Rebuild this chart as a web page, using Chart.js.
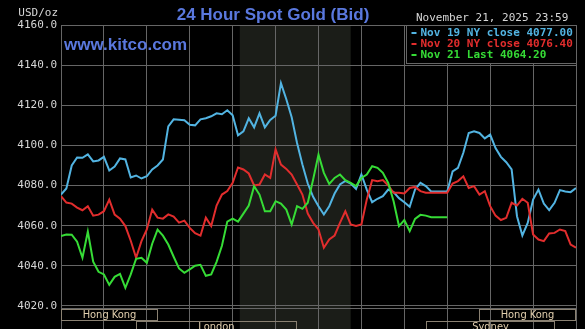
<!DOCTYPE html>
<html>
<head>
<meta charset="utf-8">
<script src="https://cdn.jsdelivr.net/npm/chart.js@4.4.1/dist/chart.umd.min.js"></script>
<style>
  html, body { margin: 0; padding: 0; background: #000; }
  canvas { display: block; }
</style>
</head>
<body>
<canvas id="goldChart" width="585" height="329"></canvas>
<script>
// time of day in hours (New York), one point every 15 minutes
const hours = [
  0, 0.25, 0.5, 0.75, 1, 1.25, 1.5, 1.75, 2, 2.25, 2.5, 2.75,
  3, 3.25, 3.5, 3.75, 4, 4.25, 4.5, 4.75, 5, 5.25, 5.5, 5.75,
  6, 6.25, 6.5, 6.75, 7, 7.25, 7.5, 7.75, 8, 8.25, 8.5, 8.75,
  9, 9.25, 9.5, 9.75, 10, 10.25, 10.5, 10.75, 11, 11.25, 11.5, 11.75,
  12, 12.25, 12.5, 12.75, 13, 13.25, 13.5, 13.75, 14, 14.25, 14.5, 14.75,
  15, 15.25, 15.5, 15.75, 16, 16.25, 16.5, 16.75, 17, 17.25, 17.5, 17.75,
  18, 18.25, 18.5, 18.75, 19, 19.25, 19.5, 19.75, 20, 20.25, 20.5, 20.75,
  21, 21.25, 21.5, 21.75, 22, 22.25, 22.5, 22.75, 23, 23.25, 23.5, 23.75, 24
];

const nov19 = [
  4075.5, 4078.5, 4090, 4094, 4093.8, 4095.5, 4092, 4092.5, 4094.3, 4087.5, 4089.5, 4093.5,
  4093, 4084, 4085, 4083.5, 4084.6, 4088, 4090, 4093, 4109.5, 4113, 4112.8, 4112.5,
  4110.3, 4110, 4113, 4113.5, 4114.5, 4116, 4115.5, 4117.5, 4115, 4105, 4107, 4113.5,
  4109, 4116, 4109, 4112.7, 4114.8, 4131, 4123, 4114, 4101.2, 4090.5, 4081, 4074.4,
  4069.7, 4065.6, 4069.7, 4076, 4080.5, 4082.3, 4081, 4078.3, 4085.5, 4078, 4071.7, 4073.4,
  4074.7, 4078, 4076.7, 4073.7, 4071.7, 4069.4, 4078, 4081.3, 4079.7, 4077, 4077, 4077,
  4077, 4087, 4088.8, 4096.3, 4106.2, 4107, 4106.2, 4103.5, 4105.4, 4098.7, 4094.3, 4091.6,
  4088, 4064.7, 4055.1, 4061.4, 4073, 4078, 4071, 4067.7, 4071.4, 4077.7, 4077, 4076.7, 4078.8
];

const nov20 = [
  4074.7, 4071.5, 4071, 4069, 4067.7, 4069.7, 4065, 4065.5, 4067.2, 4073, 4065.5, 4063.5,
  4059.8, 4052.5, 4044, 4052.3, 4058.1, 4068, 4064, 4063.5, 4065.6, 4064.5, 4061.5, 4062.5,
  4058.9, 4056.2, 4055, 4064, 4059.8, 4070, 4075.5, 4077.2, 4081.3, 4089, 4088, 4086,
  4080, 4080.5, 4085.5, 4083.8, 4098, 4090.4, 4088.3, 4085.5, 4080.5, 4075.5, 4066, 4061.4,
  4058.1, 4049, 4053.1, 4055.1, 4061.4, 4067.2, 4060.6, 4059.8, 4060.6, 4073, 4082.7, 4082.2,
  4082.7, 4080, 4076.4, 4076.4, 4076, 4078.8, 4079.3, 4077.2, 4076.4, 4076.4, 4076.4, 4076.4,
  4076.4, 4081, 4082.2, 4084.6, 4078.8, 4079.7, 4075.5, 4077.2, 4069.7, 4065, 4062.8, 4063.9,
  4071.4, 4070, 4073.4, 4071.4, 4055.6, 4053.1, 4052.3, 4056.1, 4056.4, 4058.1, 4057.3, 4050.6, 4049
];

const nov21 = [
  4054.8, 4055.6, 4055.5, 4052, 4044, 4057, 4042, 4037, 4035.7, 4030.5, 4034.5, 4036,
  4029, 4035.7, 4043.5, 4044, 4041.5, 4051, 4058, 4055, 4050.6, 4044.5, 4038.7, 4036.5,
  4038.2, 4040, 4040.5, 4035, 4035.7, 4042, 4050, 4062, 4063.5, 4062, 4066, 4070,
  4079.7, 4075.5, 4067.2, 4067.2, 4072.2, 4071, 4068, 4060.6, 4069.7, 4068.4, 4071.4, 4083,
  4095.4, 4086.3, 4080.8, 4083.8, 4085.5, 4082.7, 4081.3, 4079.7, 4083.8, 4085.5, 4089.6, 4088.8,
  4086.3, 4081.3, 4072.2, 4059.8, 4062.8, 4057.3, 4063.4, 4065.4, 4065, 4064.2, 4064.2, 4064.2,
  4064.2
];

const seriesNames = ['Nov 19 NY close 4077.00', 'Nov 20 NY close 4076.40', 'Nov 21 Last 4064.20'];
const yTicks = [4020, 4040, 4060, 4080, 4100, 4120, 4140, 4160];

// NY trading hours (shaded) and market sessions along the bottom
const nyOpen = 8.333;
const nyClose = 13.5;
const sessionNames = ['Hong Kong', 'London', 'Sydney', 'Hong Kong'];
const sessionStart = [0, 3.5, 17, 19.5];
const sessionEnd = [4.5, 11, 23, 24];
const sessionRow = [0, 1, 1, 0];

const colors = ['#52b4e2', '#e22d2d', '#36dc36'];
const gridColor = '#666666';
const mono = '"DejaVu Sans Mono", monospace';

const backdrop = {
  id: 'backdrop',
  beforeDraw(chart) {
    const ctx = chart.ctx;
    const a = chart.chartArea;
    const x = chart.scales.x;
    ctx.save();
    ctx.fillStyle = '#000';
    ctx.fillRect(0, 0, chart.width, chart.height);
    ctx.fillStyle = '#1b1d18';
    const x0 = x.getPixelForValue(nyOpen);
    const x1 = x.getPixelForValue(nyClose);
    ctx.fillRect(x0, a.top, x1 - x0, a.bottom - a.top);
    ctx.restore();
  }
};

const overlay = {
  id: 'overlay',
  afterDraw(chart) {
    const ctx = chart.ctx;
    const a = chart.chartArea;
    const x = chart.scales.x;
    const y = chart.scales.y;
    ctx.save();

    // session boxes
    const base = Math.round(y.getPixelForValue(yTicks[0]));
    ctx.strokeStyle = gridColor;
    ctx.lineWidth = 1;
    ctx.beginPath();
    ctx.moveTo(a.left, base + 2.5);
    ctx.lineTo(a.right, base + 2.5);
    ctx.stroke();
    ctx.font = '11px "Liberation Sans Narrow", "DejaVu Sans Condensed", sans-serif';
    ctx.textAlign = 'center';
    ctx.textBaseline = 'middle';
    sessionNames.forEach((name, i) => {
      const l = Math.round(x.getPixelForValue(sessionStart[i])) + 0.5;
      const r = Math.round(x.getPixelForValue(sessionEnd[i])) - 0.5;
      const t = base + 3.5 + sessionRow[i] * 12;
      ctx.strokeStyle = '#8a8172';
      ctx.strokeRect(l, t, r - l, 11);
      ctx.fillStyle = '#e2cfae';
      ctx.fillText(name, (l + r) / 2, t + 6);
    });

    // legend box
    const lw = 170, lh = 38;
    const lx = Math.round(a.right - lw) + 0.5, ly = Math.round(a.top) + 0.5;
    ctx.fillStyle = '#000';
    ctx.fillRect(lx, ly, lw, lh);
    ctx.strokeStyle = gridColor;
    ctx.strokeRect(lx, ly, lw, lh);
    ctx.font = 'bold 11px ' + mono;
    ctx.textAlign = 'left';
    seriesNames.forEach((name, i) => {
      const ty = ly + 7.5 + i * 11;
      ctx.fillStyle = colors[i];
      ctx.fillRect(lx + 5, ty - 1, 5, 2);
      ctx.fillText(name, lx + 14, ty);
    });

    // texts
    ctx.fillStyle = '#d6d6d6';
    ctx.font = '11px ' + mono;
    ctx.textAlign = 'right';
    ctx.fillText('USD/oz', a.left - 3, 13);
    ctx.textAlign = 'left';
    ctx.fillText('November 21, 2025 23:59', 416, 18);

    ctx.fillStyle = '#5a78de';
    ctx.font = 'bold 17px "Liberation Sans", Arial, sans-serif';
    ctx.textAlign = 'center';
    ctx.fillText('24 Hour Spot Gold (Bid)', 273, 15);
    ctx.textAlign = 'left';
    ctx.fillText('www.kitco.com', a.left + 3, 45);
    ctx.restore();
  }
};

const ctx = document.querySelector('#goldChart').getContext('2d');
const goldChart = new Chart(ctx, {
  type: 'line',
  data: {
    labels: hours,
    datasets: [
      { label: seriesNames[0], data: nov19, borderColor: colors[0], order: 3 },
      { label: seriesNames[1], data: nov20, borderColor: colors[1], order: 2 },
      { label: seriesNames[2], data: nov21, borderColor: colors[2], order: 1 }
    ]
  },
  options: {
    responsive: false,
    animation: false,
    layout: { padding: { top: 25, right: 9, left: 0, bottom: 0 } },
    elements: {
      line: { borderWidth: 2, tension: 0 },
      point: { radius: 0 }
    },
    plugins: {
      legend: { display: false },
      tooltip: { enabled: false }
    },
    scales: {
      x: {
        type: 'linear',
        min: 0,
        max: 24,
        ticks: { display: false, stepSize: 2 },
        grid: { color: gridColor, drawTicks: false },
        border: { display: false },
        afterFit(scale) {
          scale.height = 0;
          scale.paddingLeft = 0;
          scale.paddingRight = 0;
        }
      },
      y: {
        min: 4008.5,
        max: 4160,
        afterBuildTicks(scale) { scale.ticks = yTicks.map(v => ({ value: v })); },
        afterFit(scale) {
          scale.width = 61;
          scale.paddingTop = 0;
          scale.paddingBottom = 0;
        },
        ticks: {
          padding: 4,
          color: '#d6d6d6',
          font: { family: mono, size: 11 },
          callback: v => v.toFixed(1)
        },
        grid: { color: gridColor, drawTicks: false },
        border: { display: false }
      }
    }
  },
  plugins: [backdrop, overlay]
});
</script>
</body>
</html>
